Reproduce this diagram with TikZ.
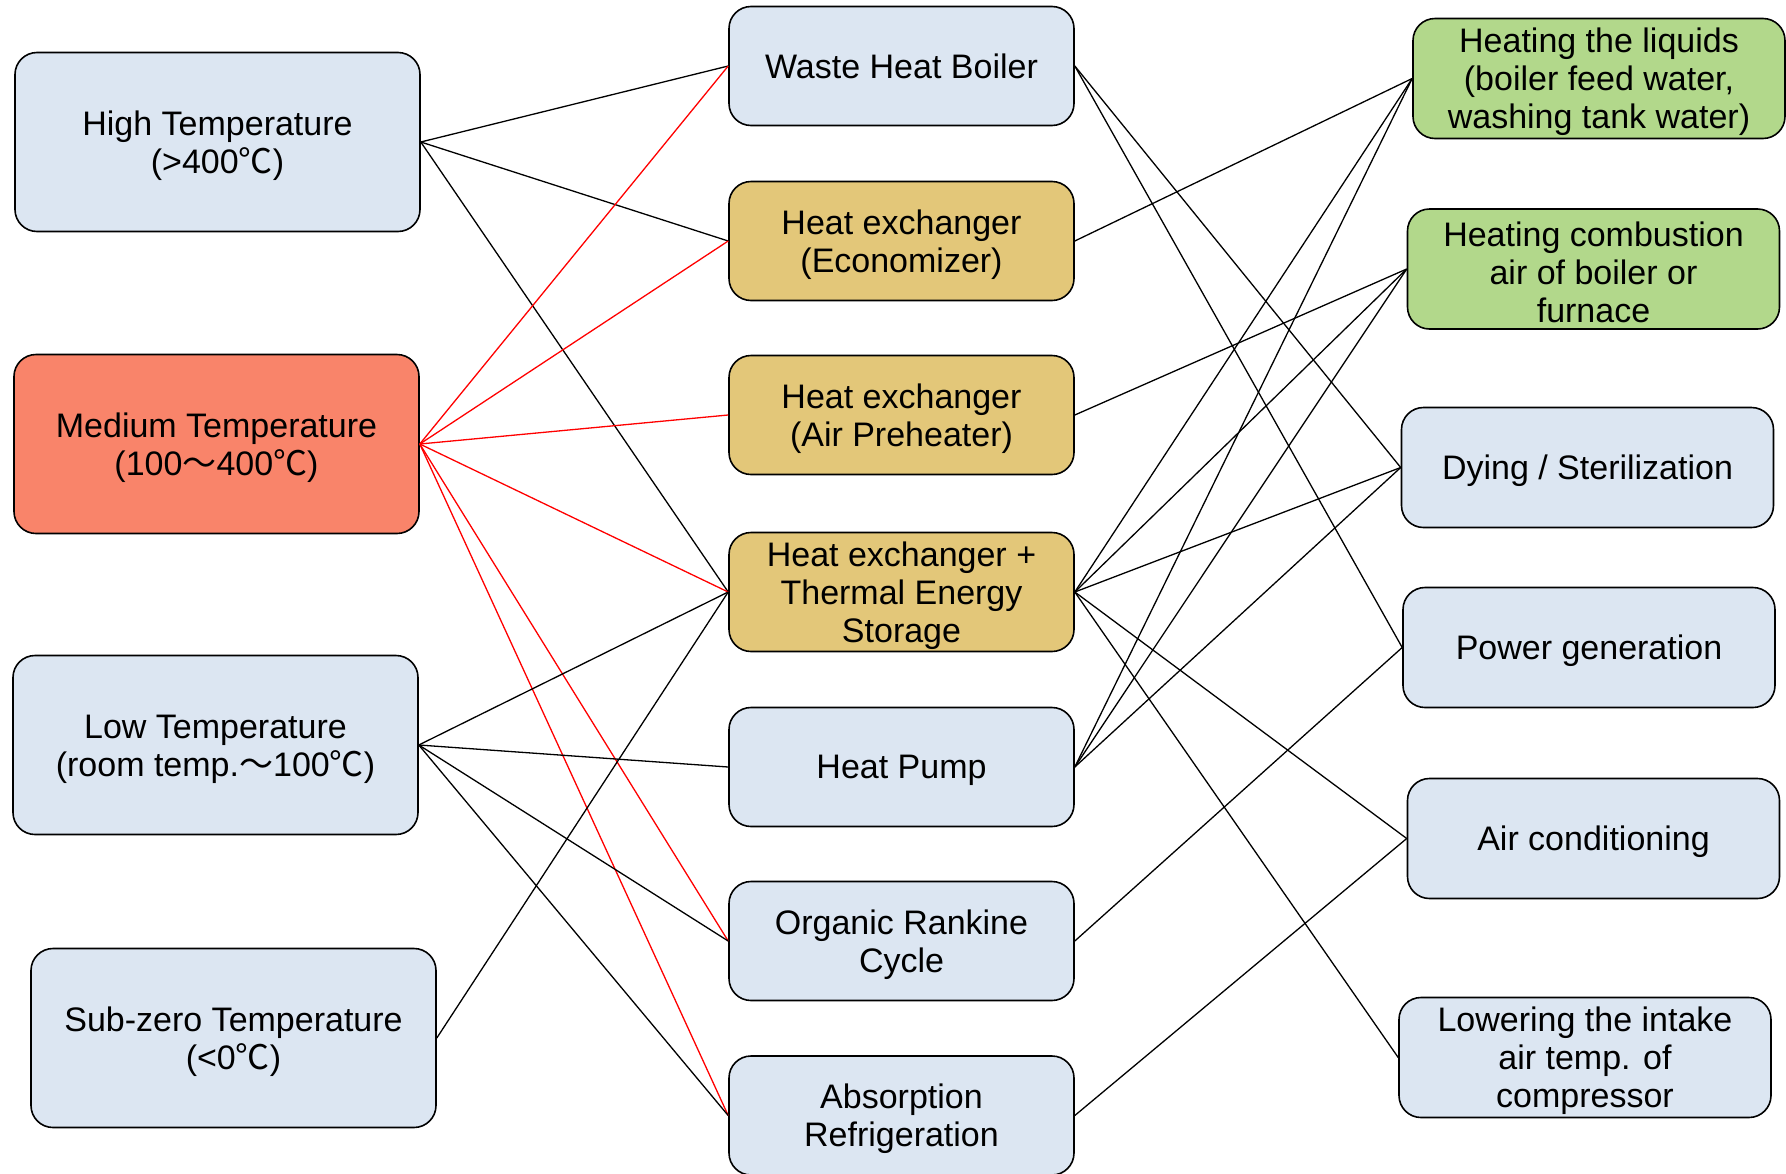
\documentclass[tikz,border=0pt]{standalone}
\usepackage{fontspec}
\setmainfont{Liberation Sans}
\newfontfamily\cjk{Noto Sans CJK KR}
\usepackage{tikz}
\usepackage{xcolor}
\usetikzlibrary{shapes, positioning}

\definecolor{boxblue}{HTML}{DCE6F2}
\definecolor{boxtan}{HTML}{E3C779}
\definecolor{boxgreen}{HTML}{B2D88B}
\definecolor{boxsalmon}{HTML}{F9846A}

\newcommand{\degc}{{\cjk ℃}}
\newcommand{\wave}{{\cjk ～}}
\newcommand{\topstrut}{\rule{0pt}{32pt}}

\tikzset{
    box/.style={draw, line width=1.6pt, rounded corners=22pt, align=center,
        inner sep=0pt, font=\fontsize{34}{38}\selectfont},
    oneline/.style={text depth=0pt},
    srcbox/.style={box, minimum width=405pt, minimum height=179pt},
    techbox/.style={box, minimum width=345pt, minimum height=119pt},
    usebox/.style={box, minimum width=372pt, minimum height=120pt},
    link/.style={line width=1.3pt},
    redlink/.style={link, red},
}

\begin{document}
\begin{tikzpicture}[x=1pt, y=-1pt]
        \useasboundingbox (0, 0) rectangle (1786, 1173);

        \node[srcbox, fill=boxblue] (high) at (217.5, 142) {\topstrut High Temperature\\(>400\degc)};
        \node[srcbox, fill=boxsalmon] (medium) at (216.5, 444) {\topstrut Medium Temperature\\(100\wave 400\degc)};
        \node[srcbox, fill=boxblue] (low) at (215.5, 745) {\topstrut Low Temperature\\(room temp.\wave 100\degc)};
        \node[srcbox, fill=boxblue] (subzero) at (233.5, 1038) {\topstrut Sub-zero Temperature\\(<0\degc)};

        \node[techbox, oneline, fill=boxblue] (whb) at (901.5, 66) {Waste Heat Boiler};
        \node[techbox, fill=boxtan] (econ) at (901.5, 241) {\topstrut Heat exchanger\\(Economizer)};
        \node[techbox, fill=boxtan] (airpre) at (901.5, 415) {\topstrut Heat exchanger\\(Air Preheater)};
        \node[techbox, fill=boxtan] (tes) at (901.5, 592) {\topstrut Heat exchanger +\\Thermal Energy\\Storage};
        \node[techbox, oneline, fill=boxblue] (pump) at (901.5, 767) {Heat Pump};
        \node[techbox, fill=boxblue] (orc) at (901.5, 941) {\topstrut Organic Rankine\\Cycle};
        \node[techbox, fill=boxblue] (absorb) at (901.5, 1115.5) {\topstrut Absorption\\Refrigeration};

        \node[usebox, fill=boxgreen] (liquids) at (1599, 78.5) {\topstrut Heating the liquids\\(boiler feed water,\\washing tank water)};
        \node[usebox, fill=boxgreen] (combust) at (1593.5, 269) {\topstrut Heating combustion\\air of boiler or\\furnace};
        \node[usebox, oneline, fill=boxblue] (drying) at (1587.5, 467.5) {Dying / Sterilization};
        \node[usebox, oneline, fill=boxblue] (power) at (1589, 647.5) {Power generation};
        \node[usebox, oneline, fill=boxblue] (aircon) at (1593.5, 838.5) {Air conditioning};
        \node[usebox, fill=boxblue] (lowering) at (1585, 1057.5) {\topstrut Lowering the intake\\air temp. of\\compressor};

        % sources to technologies
        \draw[link] (high.east) -- (whb.west);
        \draw[link] (high.east) -- (econ.west);
        \draw[link] (high.east) -- (tes.west);

        \draw[redlink] (medium.east) -- (whb.west);
        \draw[redlink] (medium.east) -- (econ.west);
        \draw[redlink] (medium.east) -- (airpre.west);
        \draw[redlink] (medium.east) -- (tes.west);
        \draw[redlink] (medium.east) -- (orc.west);
        \draw[redlink] (medium.east) -- (absorb.west);

        \draw[link] (low.east) -- (tes.west);
        \draw[link] (low.east) -- (pump.west);
        \draw[link] (low.east) -- (orc.west);
        \draw[link] (low.east) -- (absorb.west);

        \draw[link] (subzero.east) -- (tes.west);

        % technologies to uses
        \draw[link] (whb.east) -- (drying.west);
        \draw[link] (whb.east) -- (power.west);
        \draw[link] (econ.east) -- (liquids.west);
        \draw[link] (airpre.east) -- (combust.west);

        \draw[link] (tes.east) -- (liquids.west);
        \draw[link] (tes.east) -- (combust.west);
        \draw[link] (tes.east) -- (drying.west);
        \draw[link] (tes.east) -- (aircon.west);
        \draw[link] (tes.east) -- (lowering.west);

        \draw[link] (pump.east) -- (liquids.west);
        \draw[link] (pump.east) -- (combust.west);
        \draw[link] (pump.east) -- (drying.west);

        \draw[link] (orc.east) -- (power.west);
        \draw[link] (absorb.east) -- (aircon.west);
    \end{tikzpicture}
\end{document}
